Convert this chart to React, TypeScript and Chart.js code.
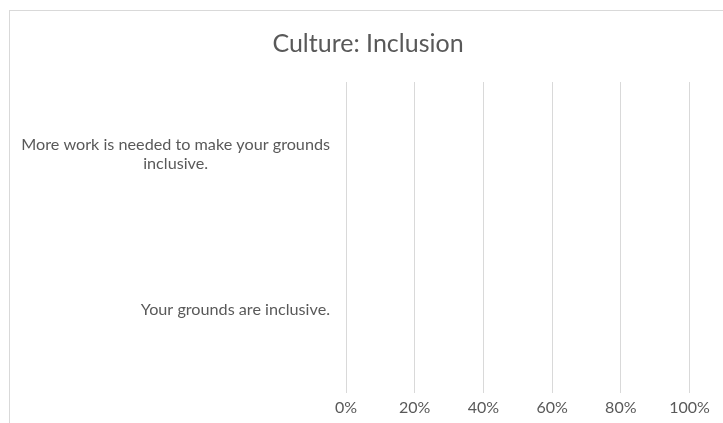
import React, { useEffect, useRef } from "react";
import { Chart, registerables } from "chart.js";

Chart.register(...registerables);

// ---- data ----
const chartTitle = "Culture: Inclusion";
const categories: string[][] = [
  ["More work is needed to make your grounds", "inclusive."],
  ["Your grounds are inclusive."],
];
const seriesName = "Responses";
const seriesValues = [0, 0];
const xTickLabels = ["0%", "20%", "40%", "60%", "80%", "100%"];
const xMin = 0;
const xMax = 100;
const xStep = 20;

// ---- style ----
const TEXT = "#595959";
const GRID = "#d9d9d9";
const FONT = "Lato, 'Open Sans', sans-serif";
const LABEL_SIZE = 16.2;
const TICK_SIZE = 16;
const W = 722;
const H = 420;

const categoryLabelPlugin = {
  id: "categoryLabels",
  afterDraw(chart: any) {
    const yScale = chart.scales.y;
    const ctx = chart.ctx as CanvasRenderingContext2D;
    ctx.save();
    ctx.font = `${LABEL_SIZE}px ${FONT}`;
    ctx.fillStyle = TEXT;
    ctx.textBaseline = "middle";
    ctx.textAlign = "center";
    const right = chart.chartArea.left - 16;
    const lh = 19;
    categories.forEach((lines, i) => {
      const cy = yScale.getPixelForValue(i) - 5;
      const widest = Math.max(...lines.map((l) => ctx.measureText(l).width));
      const cx = right - widest / 2;
      const top = cy - ((lines.length - 1) * lh) / 2;
      lines.forEach((l, j) => ctx.fillText(l, cx, top + j * lh));
    });
    ctx.restore();
  },
};

export default function App() {
  const ref = useRef<HTMLCanvasElement | null>(null);

  useEffect(() => {
    if (!ref.current) return;
    const chart = new Chart(ref.current, {
      type: "bar",
      data: {
        labels: categories.map((c) => c.join(" ")),
        datasets: [
          {
            label: seriesName,
            data: seriesValues,
            backgroundColor: "#4472c4",
            borderWidth: 0,
          },
        ],
      },
      options: {
        indexAxis: "y",
        responsive: false,
        animation: false,
        events: [],
        layout: { padding: { left: 36.5, right: 42.5, top: 0, bottom: 8 } },
        plugins: {
          legend: { display: false },
          tooltip: { enabled: false },
          title: {
            display: true,
            text: chartTitle,
            color: TEXT,
            font: { family: FONT, size: 25, weight: "normal", lineHeight: 1.2 },
            padding: { top: 18, bottom: 23 },
          },
        },
        scales: {
          x: {
            type: "linear",
            min: xMin,
            max: xMax,
            grid: { color: GRID, drawTicks: false, lineWidth: 1 },
            border: { display: false },
            ticks: {
              stepSize: xStep,
              padding: 5,
              color: TEXT,
              font: { family: FONT, size: TICK_SIZE },
              callback: (v: any, i: number) => xTickLabels[i] ?? `${v}%`,
            },
            afterFit: (s: any) => {
              s.height = 30;
            },
          },
          y: {
            grid: { display: false },
            border: { display: false },
            ticks: { display: false },
            afterFit: (s: any) => {
              s.width = 299.5;
            },
          },
        },
      },
      plugins: [categoryLabelPlugin],
    } as any);
    return () => chart.destroy();
  }, []);

  return (
    <div
      style={{
        position: "fixed",
        left: 0,
        top: 0,
        width: 723,
        height: 423,
        overflow: "hidden",
        background: "#ffffff",
      }}
    >
      <div
        style={{
          position: "absolute",
          left: 9,
          top: 10,
          width: 730,
          height: 430,
          borderLeft: `1px solid ${GRID}`,
          borderTop: `1px solid ${GRID}`,
          background: "#ffffff",
        }}
      >
        <canvas ref={ref} width={W} height={H} style={{ display: "block", width: W, height: H }} />
      </div>
    </div>
  );
}
